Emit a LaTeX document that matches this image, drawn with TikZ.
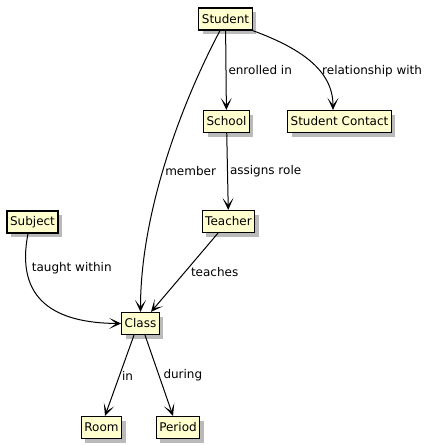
\documentclass[tikz,border=0pt]{standalone}
\usepackage{fontspec}
\setmainfont{DejaVu Sans}
\usepackage{tikz}
\usetikzlibrary{arrows.meta,shadows}
\definecolor{objfill}{HTML}{FEFECE}

\begin{document}
\begin{tikzpicture}[x=1pt,y=-1pt,font=\fontsize{12}{14}\selectfont,obj/.style={draw=black,line width=1.2pt,fill=objfill,inner xsep=3pt,inner ysep=0pt,minimum height=22pt,drop shadow={shadow xshift=4pt,shadow yshift=-4pt,fill=black!45,opacity=0.6}},rel/.style={line width=1pt,-{Stealth[length=12pt,width=11pt,inset=7pt]}},lbl/.style={inner sep=2pt}]
\path[use as bounding box] (0,0) rectangle (431,445);
\foreach \n/\x/\y/\t in %
{student/225.5/19/Student,school/226.5/121.5/School,contact/339.5/121.5/Student Contact,subject/32.5/222/Subject,teacher/228.5/221.5/Teacher,class/140.5/323.5/Class,room/101.5/427.5/Room,period/178/427.5/Period} {
   \node[obj] (\n) at (\x,\y) {\t};
}
\draw[rel] (student) -- node[lbl,right]{enrolled in} (school);
\draw[rel] (student.south east) .. controls (300,48) and ([xshift=-6.5pt,yshift=40pt]contact.north) .. node[lbl,anchor=west,pos=0.62]{relationship with} ([xshift=-6.5pt]contact.north);
\draw[rel] ([xshift=-5.5pt]student.south) .. controls (178,110) and ([yshift=95pt]class.north) .. node[lbl,anchor=west,pos=0.52]{member} (class.north);
\draw[rel] (school) -- node[lbl,right]{assigns role} (teacher);
\draw[rel] ([xshift=-10.5pt]teacher.south) -- node[lbl,anchor=west,xshift=4pt]{teaches} ([xshift=10.5pt]class.north);
\draw[rel] ([xshift=-4.5pt]subject.south) .. controls (15,300) and (55,323) .. node[lbl,anchor=west,pos=0.2,xshift=3pt]{taught within} (class.west);
\draw[rel] ([xshift=-6.5pt]class.south) -- node[lbl,right]{in} ([xshift=3.5pt]room.north);
\draw[rel] ([xshift=4.5pt]class.south) -- node[lbl,right,xshift=2pt]{during} ([xshift=-5pt]period.north);
\end{tikzpicture}
\end{document}
